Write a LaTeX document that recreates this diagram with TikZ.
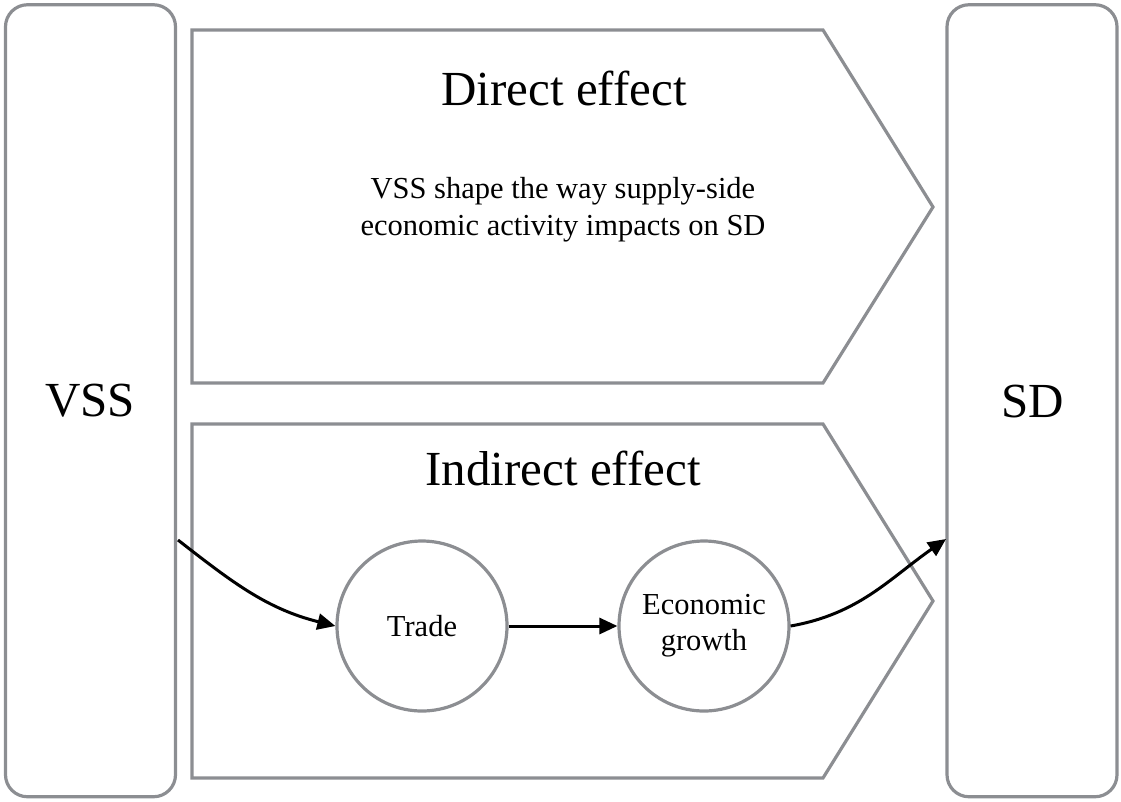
\documentclass[tikz,border=0pt]{standalone}
\usepackage{fontspec}
\setmainfont{Liberation Serif}
\usetikzlibrary{arrows.meta}
\definecolor{edgegray}{RGB}{140,142,146}
\begin{document}
\begin{tikzpicture}[x=1pt,y=1pt,
  pillar/.style={draw=edgegray,line width=3.2pt,rounded corners=22pt,minimum width=170pt,minimum height=792pt,inner sep=0pt},
  chevron/.style={draw=edgegray,line width=3.2pt,line join=miter},
  bubble/.style={circle,draw=edgegray,line width=3.2pt,minimum size=170pt,inner sep=0pt,align=center,font=\fontsize{30.5}{36}\selectfont},
  bigtxt/.style={font=\fontsize{49}{58}\selectfont,anchor=base},
  bodytxt/.style={font=\fontsize{30.5}{37}\selectfont,align=center},
  flow/.style={draw=black,line width=3pt,-{Triangle[length=18pt,width=16pt]}}]
\useasboundingbox (0,0) rectangle (1121,-801);
% pillars
\node[pillar] (vssbox) at (90.5,-400.75) {};
\node[pillar] (sdbox) at (1032,-400.75) {};
\node[bigtxt] (vss) at (90,-416) {VSS};
\node[bigtxt] (sd) at (1033,-417) {SD};
% chevrons
\draw[chevron] (192,-30) -- (823,-30) -- (933,-207) -- (823,-383) -- (192,-383) -- cycle;
\draw[chevron] (192,-424) -- (823,-424) -- (933,-601) -- (823,-778) -- (192,-778) -- cycle;
\node[bigtxt] (direct) at (564,-105) {Direct effect};
\node[bodytxt] (desc) at (563,-210) {VSS shape the way supply-side\\economic activity impacts on SD};
\node[bigtxt] (indirect) at (563,-485) {Indirect effect};
% circles
\node[bubble] (trade) at (422,-626) {Trade};
\node[bubble] (growth) at (704,-626) {Economic\\growth};
% arrows
\coordinate (start) at (178,-540);
\coordinate (finish) at (946,-539);
\draw[flow] (start) to[out=-38,in=166] (trade.west);
\draw[flow] (trade.east) -- (growth.west);
\draw[flow] (growth.east) to[out=10,in=-145] (finish);
\end{tikzpicture}
\end{document}
